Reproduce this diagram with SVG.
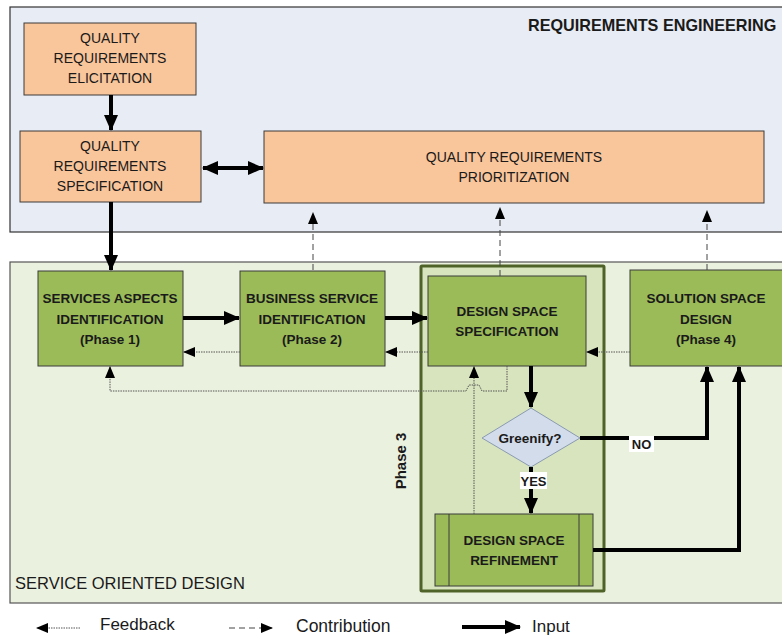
<svg xmlns="http://www.w3.org/2000/svg" width="782" height="637" viewBox="0 0 782 637">
<style>
  .t{font-family:"Liberation Sans",Arial,sans-serif;fill:#1a1a1a}
  .or{font-size:14px;text-anchor:middle}
  .gb{font-size:13.5px;font-weight:bold;text-anchor:middle}
  .peach{fill:#f9c59b;stroke:#3a3a3a;stroke-width:1}
  .green{fill:#9bbb59;stroke:#3a3a3a;stroke-width:1}
  .in{fill:none;stroke:#000;stroke-width:4}
  .fb{fill:none;stroke:#555;stroke-width:1;stroke-dasharray:1.5 1}
  .ct{fill:none;stroke:#444;stroke-width:1;stroke-dasharray:6 4}
</style>
<defs>
  <marker id="ah" markerUnits="userSpaceOnUse" markerWidth="16" markerHeight="16" viewBox="0 0 16 16" refX="15" refY="8" orient="auto-start-reverse">
    <path d="M0,1 L16,8 L0,15 Z" fill="#000"/>
  </marker>
  <marker id="as" markerUnits="userSpaceOnUse" markerWidth="12" markerHeight="12" viewBox="0 0 12 12" refX="11" refY="6" orient="auto">
    <path d="M0,1 L12,6 L0,11 Z" fill="#000"/>
  </marker>
</defs>
<rect width="782" height="637" fill="#fff"/>

<g id="panel-re">
  <rect x="10" y="7" width="790" height="225" fill="#e8ecf4" stroke="#333" stroke-width="1.2"/>
  <text class="t" x="528" y="31" font-size="16.2" font-weight="bold">REQUIREMENTS ENGINEERING</text>
</g>
<g id="panel-sod">
  <rect x="10" y="262" width="790" height="341" fill="#ebf1df" stroke="#555" stroke-width="1.2"/>
  <text class="t" x="15" y="589" font-size="16.5">SERVICE ORIENTED DESIGN</text>
</g>

<g id="phase3">
  <rect x="421" y="266" width="183" height="325" fill="#d7e4bd" stroke="#4f6228" stroke-width="3" rx="1"/>
  <text class="t" transform="translate(406,461) rotate(-90)" font-size="15" font-weight="bold" text-anchor="middle">Phase 3</text>
</g>

<g id="qre">
  <rect class="peach" x="24" y="23" width="172" height="72"/>
  <text class="t or" x="110" y="43">QUALITY</text>
  <text class="t or" x="110" y="63">REQUIREMENTS</text>
  <text class="t or" x="110" y="83">ELICITATION</text>
</g>
<g id="qrs">
  <rect class="peach" x="20" y="131" width="181" height="71"/>
  <text class="t or" x="110" y="151">QUALITY</text>
  <text class="t or" x="110" y="171">REQUIREMENTS</text>
  <text class="t or" x="110" y="191">SPECIFICATION</text>
</g>
<g id="qrp">
  <rect class="peach" x="264" y="131" width="500" height="72"/>
  <text class="t or" x="514" y="162">QUALITY REQUIREMENTS</text>
  <text class="t or" x="514" y="182">PRIORITIZATION</text>
</g>

<g id="phase1">
  <rect class="green" x="38" y="271" width="145" height="95"/>
  <text class="t gb" x="110" y="303">SERVICES ASPECTS</text>
  <text class="t gb" x="110" y="324">IDENTIFICATION</text>
  <text class="t gb" x="110" y="344">(Phase 1)</text>
</g>
<g id="phase2">
  <rect class="green" x="240" y="271" width="145" height="95"/>
  <text class="t gb" x="312" y="303">BUSINESS SERVICE</text>
  <text class="t gb" x="312" y="324">IDENTIFICATION</text>
  <text class="t gb" x="312" y="344">(Phase 2)</text>
</g>
<g id="dss">
  <rect class="green" x="428" y="276" width="158" height="90" stroke="#6b7f45"/>
  <text class="t gb" x="507" y="316">DESIGN SPACE</text>
  <text class="t gb" x="507" y="336">SPECIFICATION</text>
</g>
<g id="phase4">
  <rect class="green" x="630" y="270" width="170" height="96"/>
  <text class="t gb" x="706" y="303">SOLUTION SPACE</text>
  <text class="t gb" x="706" y="324">DESIGN</text>
  <text class="t gb" x="706" y="344">(Phase 4)</text>
</g>
<g id="greenify">
  <path d="M531,408 L580,438 L531,467 L482,438 Z" fill="#d3dcea" stroke="#8a9ab0" stroke-width="1"/>
  <text class="t gb" x="530" y="443" font-size="14.5">Greenify?</text>
</g>
<g id="dsr">
  <rect class="green" x="435" y="514" width="158" height="72"/>
  <line x1="449" y1="514" x2="449" y2="586" stroke="#3a3a3a"/>
  <line x1="579" y1="514" x2="579" y2="586" stroke="#3a3a3a"/>
  <text class="t gb" x="514" y="545">DESIGN SPACE</text>
  <text class="t gb" x="514" y="565">REFINEMENT</text>
</g>

<g id="connectors">
  <!-- inputs -->
  <path class="in" d="M111,95 L111,130" stroke-width="2.5" marker-end="url(#ah)"/>
  <path class="in" d="M203,168 L263,168" stroke-width="3" marker-start="url(#ah)" marker-end="url(#ah)"/>
  <path class="in" d="M111,202 L111,270" marker-end="url(#ah)"/>
  <path class="in" d="M183,318 L239,318" marker-end="url(#ah)"/>
  <path class="in" d="M385,318 L427,318" marker-end="url(#ah)"/>
  <path class="in" d="M531,366 L531,407" marker-end="url(#ah)"/>
  <path class="in" d="M580,438 L707,438 L707,367" marker-end="url(#ah)"/>
  <path class="in" d="M531,467 L531,513" marker-end="url(#ah)"/>
  <path class="in" d="M593,550 L739,550 L739,367" marker-end="url(#ah)"/>
  <!-- contributions -->
  <path class="ct" d="M313,270 L313,213" marker-end="url(#as)"/>
  <path class="ct" d="M500,276 L500,208" marker-end="url(#as)"/>
  <path class="ct" d="M707,270 L707,211" marker-end="url(#as)"/>
  <!-- feedback -->
  <path class="fb" d="M240,352 L184,352" marker-end="url(#as)"/>
  <path class="fb" d="M428,352 L386,352" marker-end="url(#as)"/>
  <path class="fb" d="M630,352 L587,352" marker-end="url(#as)"/>
  <path class="fb" d="M474,514 L474,367" marker-end="url(#as)"/>
  <path class="fb" d="M507,366 L507,391 L482,391 L479,385 L469,385 L466,391 L110,391 L110,367" marker-end="url(#as)"/>
  <!-- labels -->
  <rect x="629" y="436" width="25" height="16" fill="#fff"/>
  <text class="t" x="641.5" y="449" font-size="13" font-weight="bold" text-anchor="middle">NO</text>
  <rect x="520" y="472" width="27" height="17" fill="#fff"/>
  <text class="t" x="533.5" y="486" font-size="13" font-weight="bold" text-anchor="middle">YES</text>
</g>

<g id="legend">
  <path class="fb" d="M80,628 L37,628" marker-end="url(#as)"/>
  <text class="t" x="100" y="630" font-size="17">Feedback</text>
  <path class="ct" d="M229,628 L272,628" stroke-dasharray="4 3" marker-end="url(#as)"/>
  <text class="t" x="296" y="632" font-size="17.5">Contribution</text>
  <path class="in" d="M462,627 L520,627" marker-end="url(#ah)"/>
  <text class="t" x="532" y="632" font-size="17">Input</text>
</g>
</svg>
